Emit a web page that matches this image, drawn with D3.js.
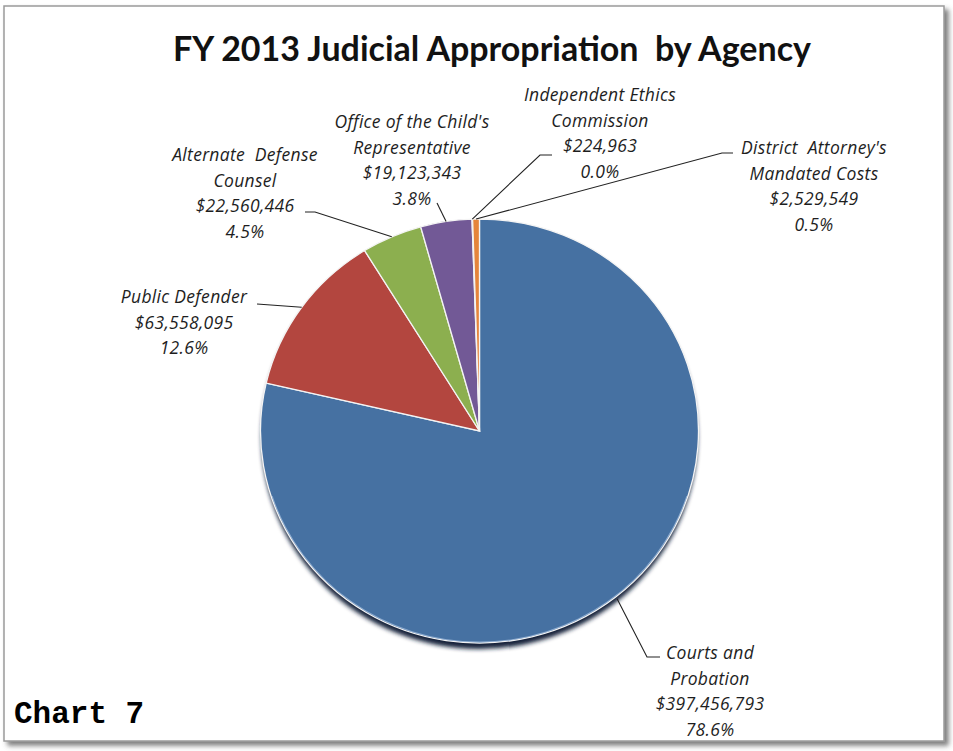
<!DOCTYPE html>
<html>
<head>
<meta charset="utf-8">
<script src="https://cdn.jsdelivr.net/npm/d3@7"></script>
<style>
  html, body { margin: 0; padding: 0; background: #ffffff; }
  svg { display: block; }
</style>
</head>
<body>
<svg id="chart" width="953" height="751"></svg>
<script>
// ---- data ----
const categories = [
  "Courts and Probation",
  "Public Defender",
  "Alternate Defense Counsel",
  "Office of the Child's Representative",
  "Independent Ethics Commission",
  "District Attorney's Mandated Costs"
];
const values = [397456793, 63558095, 22560446, 19123343, 224963, 2529549];
const percentLabels = ["78.6%", "12.6%", "4.5%", "3.8%", "0.0%", "0.5%"];
const nameLines = [
  ["Courts and", "Probation"],
  ["Public Defender"],
  ["Alternate  Defense", "Counsel"],
  ["Office of the Child's", "Representative"],
  ["Independent Ethics", "Commission"],
  ["District  Attorney's", "Mandated Costs"]
];
const colors = ["#4671A2", "#B3463F", "#8CAF4F", "#725996", "#4BACC6", "#E5853B"];
const titleText = "FY 2013 Judicial Appropriation  by Agency";
const chartTag = "Chart 7";

// ---- layout ----
const W = 953, H = 751;
const cx = 479.5, cy = 431, rx = 219, ry = 212;
// label layout: centre x, centre y of first line
const labelPos = [
  {x: 710, y: 653},
  {x: 184, y: 297},
  {x: 245, y: 155},
  {x: 412, y: 122},
  {x: 600, y: 95},
  {x: 814, y: 148}
];
// leader layout: points from label side (edge point on pie appended from the pie layout)
const leaderPts = [
  [[660, 657], [647, 657]],
  [[257, 304]],
  [[305, 212], [315, 212]],
  [[437, 203]],
  [[552, 155], [540, 155]],
  [[733, 153], [722, 153]]
];
const lineH = 25.5;

const svg = d3.select("#chart");
const defs = svg.append("defs");

const fs = defs.append("filter").attr("id", "frameShadow")
  .attr("x", "-5%").attr("y", "-5%").attr("width", "115%").attr("height", "115%");
fs.append("feDropShadow").attr("dx", 4).attr("dy", 4).attr("stdDeviation", 2.5)
  .attr("flood-color", "#555").attr("flood-opacity", 0.75);

const ps = defs.append("filter").attr("id", "pieShadow")
  .attr("x", "-10%").attr("y", "-10%").attr("width", "120%").attr("height", "130%");
ps.append("feGaussianBlur").attr("stdDeviation", 2.2);

// frame
svg.append("rect")
  .attr("x", 4).attr("y", 6).attr("width", 940).attr("height", 735)
  .attr("fill", "#ffffff").attr("stroke", "#9a9a9a").attr("stroke-width", 1.5)
  .attr("filter", "url(#frameShadow)");

// title
svg.append("text")
  .attr("x", 492).attr("y", 61)
  .attr("text-anchor", "middle")
  .attr("font-family", "Lato, 'Open Sans', sans-serif")
  .attr("font-weight", "bold")
  .attr("font-size", 34)
  .attr("fill", "#111")
  .attr("textLength", 638)
  .attr("lengthAdjust", "spacingAndGlyphs")
  .style("white-space", "pre")
  .text(titleText);

// pie
const pie = d3.pie().sort(null).value(d => d)(values);
const arc = d3.arc().innerRadius(0).outerRadius(rx);
const k = ry / rx;

// shadow under pie
svg.append("ellipse")
  .attr("cx", cx).attr("cy", cy + 6)
  .attr("rx", rx - 1).attr("ry", ry)
  .attr("fill", "#16243b")
  .attr("filter", "url(#pieShadow)");

const g = svg.append("g").attr("transform", `translate(${cx},${cy}) scale(1,${k})`);
g.selectAll("path.slice")
  .data(pie)
  .join("path")
  .attr("class", "slice")
  .attr("d", arc)
  .attr("fill", (d, i) => colors[i])
  .attr("stroke", "#f4f4f4")
  .attr("stroke-width", 1.3)
  .attr("vector-effect", "non-scaling-stroke");

// light rim on lower edge
const rimArc = d3.arc().innerRadius(rx - 1.5).outerRadius(rx - 0.5)
  .startAngle(Math.PI * 0.6).endAngle(Math.PI * 1.4);
g.append("path").attr("d", rimArc()).attr("fill", "#a9c3e2").attr("opacity", 0.7);

// leader lines
function edgePoint(d, f) {
  const a = (d.startAngle + d.endAngle) / 2;
  return [cx + rx * f * Math.sin(a), cy - ry * f * Math.cos(a)];
}
const line = d3.line();
pie.forEach((d, i) => {
  const pts = leaderPts[i].concat([edgePoint(d, i === 0 ? 1.01 : 1.0)]);
  svg.append("path")
    .attr("d", line(pts))
    .attr("fill", "none")
    .attr("stroke", "#222")
    .attr("stroke-width", 1.1);
});

// labels
const fmt = d3.format("$,");
pie.forEach((d, i) => {
  const lines = nameLines[i].concat([fmt(values[i]), percentLabels[i]]);
  const t = svg.append("text")
    .attr("text-anchor", "middle")
    .attr("font-family", "'Open Sans', 'Liberation Sans', sans-serif")
    .attr("font-style", "italic")
    .attr("font-size", 17.5)
    .attr("letter-spacing", 0.3)
    .attr("fill", "#1e1e1e")
    .style("white-space", "pre");
  lines.forEach((s, j) => {
    t.append("tspan")
      .attr("x", labelPos[i].x)
      .attr("y", labelPos[i].y + j * lineH)
      .attr("dy", "0.35em")
      .text(s);
  });
});

// chart tag
svg.append("text")
  .attr("x", 14).attr("y", 723)
  .attr("font-family", "'Liberation Mono', 'Courier New', monospace")
  .attr("font-weight", "bold")
  .attr("font-size", 31)
  .attr("fill", "#000")
  .text(chartTag);
</script>
</body>
</html>
